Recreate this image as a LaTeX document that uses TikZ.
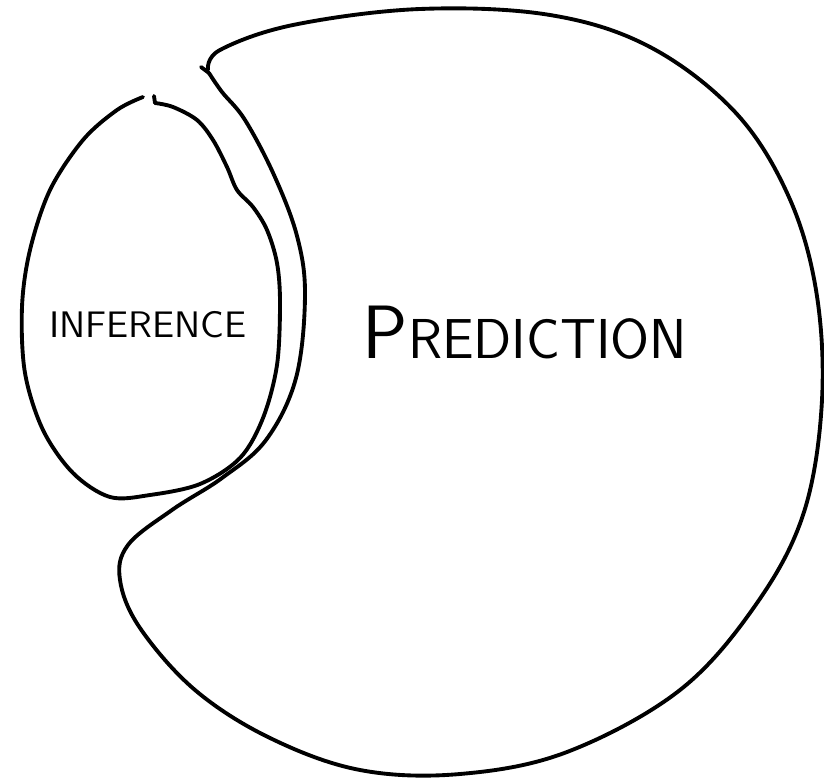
\documentclass[tikz,border=0pt]{standalone}
\usepackage{tikz}

\tikzset{
  pen/.style={line width=1.1pt, line cap=round, line join=round},
  word/.style={font=\sffamily, inner sep=0pt},
}

\begin{document}
\begin{tikzpicture}[x=0.01cm, y=-0.01cm]
  \useasboundingbox (0,0) rectangle (824,779);
  % big blob
  \draw[pen] plot[smooth, tension=0.6] coordinates {
    (208,70) (220,50) (293,25) (420,9) (550,15) (650,47) (735,112)
    (788,195) (816,290) (822,400) (804,512) (757,603) (680,690)
    (567,752) (460,774) (360,770) (270,738) (195,690) (140,628)
    (120,580) (128,545) (172,510) (222,478) (266,440) (296,378)
    (305,295) (297,236) (274,175) (245,120) (222,92) (209,73)};
  \draw[pen] (209,73) -- (201,67);
  % small oval
  \draw[pen] plot[smooth, tension=0.55] coordinates {
    (155,103) (173,107) (197,120) (213,140) (227,167) (237,190)
    (253,207) (267,230) (277,263) (280,303) (277,365) (263,418)
    (240,458) (200,484) (150,495) (110,497) (73,473) (43,430)
    (25,373) (22,307) (30,250) (50,190) (83,140) (117,110) (143,97)};
  \draw[pen] (155,103) -- (154,96);
  % labels
  \node[word] (infer) at (148,325) {\fontsize{10.5}{12}\selectfont INFERENCE};
  \node[word] (pred) at (525,333) {{\fontsize{21.5}{24}\selectfont P}{\fontsize{16}{19}\selectfont REDICTION}};
\end{tikzpicture}
\end{document}
